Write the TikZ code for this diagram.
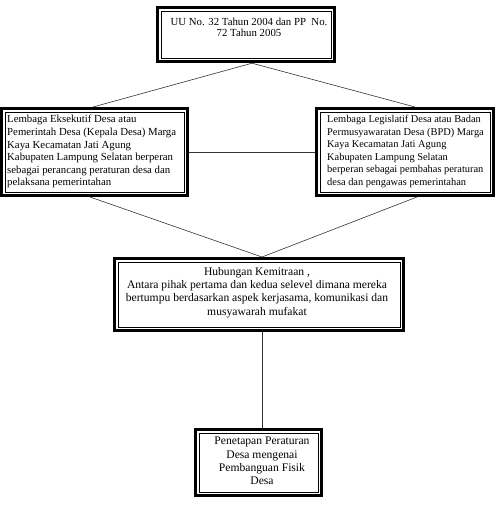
\documentclass[tikz,border=0pt]{standalone}
\usepackage{fontspec}
\setmainfont{Liberation Serif}
\begin{document}
\begin{tikzpicture}[x=1pt,y=-1pt,
  dbox/.style={draw=black, line width=2.6pt, inner sep=0pt,
    path picture={\draw[line width=0.7pt]
      ([shift={(3.6pt,3.6pt)}]path picture bounding box.south west) rectangle
      ([shift={(-3.6pt,-3.6pt)}]path picture bounding box.north east);}},
  txt/.style={inner sep=0pt, font=\fontsize{10.8}{12.6}\selectfont},
  bigtxt/.style={inner sep=0pt, font=\fontsize{11.6}{13.3}\selectfont},
  conn/.style={draw=black!80, line width=0.6pt}]
\useasboundingbox (0,0) rectangle (497,521);
% boxes
\node[dbox, minimum width=177.4pt, minimum height=54.4pt] (top) at (246,34.5) {};
\node[dbox, minimum width=186.4pt, minimum height=87.4pt] (left) at (94.5,152) {};
\node[dbox, minimum width=177.4pt, minimum height=87.4pt] (right) at (405,152) {};
\node[dbox, minimum width=289.4pt, minimum height=72.4pt] (mid) at (259,294.5) {};
\node[dbox, minimum width=126.4pt, minimum height=66.4pt] (bot) at (258.5,462.5) {};
% texts
\node[txt, align=center, anchor=north, font=\fontsize{10.8}{11.5}\selectfont] (toptxt) at (249,17.5) {UU No. 32 Tahun 2004 dan PP\ \ No.\\72 Tahun 2005};
\node[txt, align=left, anchor=north west] (lefttxt) at (7,115) {Lembaga Eksekutif Desa atau\\Pemerintah Desa (Kepala Desa) Marga\\Kaya Kecamatan Jati Agung\\Kabupaten Lampung Selatan berperan\\sebagai perancang peraturan desa dan\\pelaksana pemerintahan};
\node[txt, align=left, anchor=north west, font=\fontsize{10.4}{12.6}\selectfont] (righttxt) at (327,115) {Lembaga Legislatif Desa atau Badan\\Permusyawaratan Desa (BPD) Marga\\Kaya Kecamatan Jati Agung\\Kabupaten Lampung Selatan\\berperan sebagai pembahas peraturan\\desa dan pengawas pemerintahan};
\node[bigtxt, align=center, anchor=north] (midtxt) at (257,267) {Hubungan Kemitraan ,\\Antara pihak pertama dan kedua selevel dimana mereka\\bertumpu berdasarkan aspek kerjasama, komunikasi dan\\musyawarah mufakat};
\node[bigtxt, align=center, anchor=north] (bottxt) at (262,437) {Penetapan Peraturan\\Desa mengenai\\Pembanguan Fisik\\Desa};
% connector points
\coordinate (tj) at (252,63.2);
\coordinate (lt) at (93,107);
\coordinate (rt) at (415,107);
\coordinate (lb) at (90,197);
\coordinate (rb) at (417,197);
\coordinate (mj) at (262,257);
\coordinate (mb) at (262,332);
\coordinate (bt) at (262,428);
\draw[conn] (tj) -- (lt);
\draw[conn] (tj) -- (rt);
\draw[conn] (left.east) -- (right.west);
\draw[conn] (lb) -- (mj);
\draw[conn] (rb) -- (mj);
\draw[conn] (mb) -- (bt);
\end{tikzpicture}
\end{document}
